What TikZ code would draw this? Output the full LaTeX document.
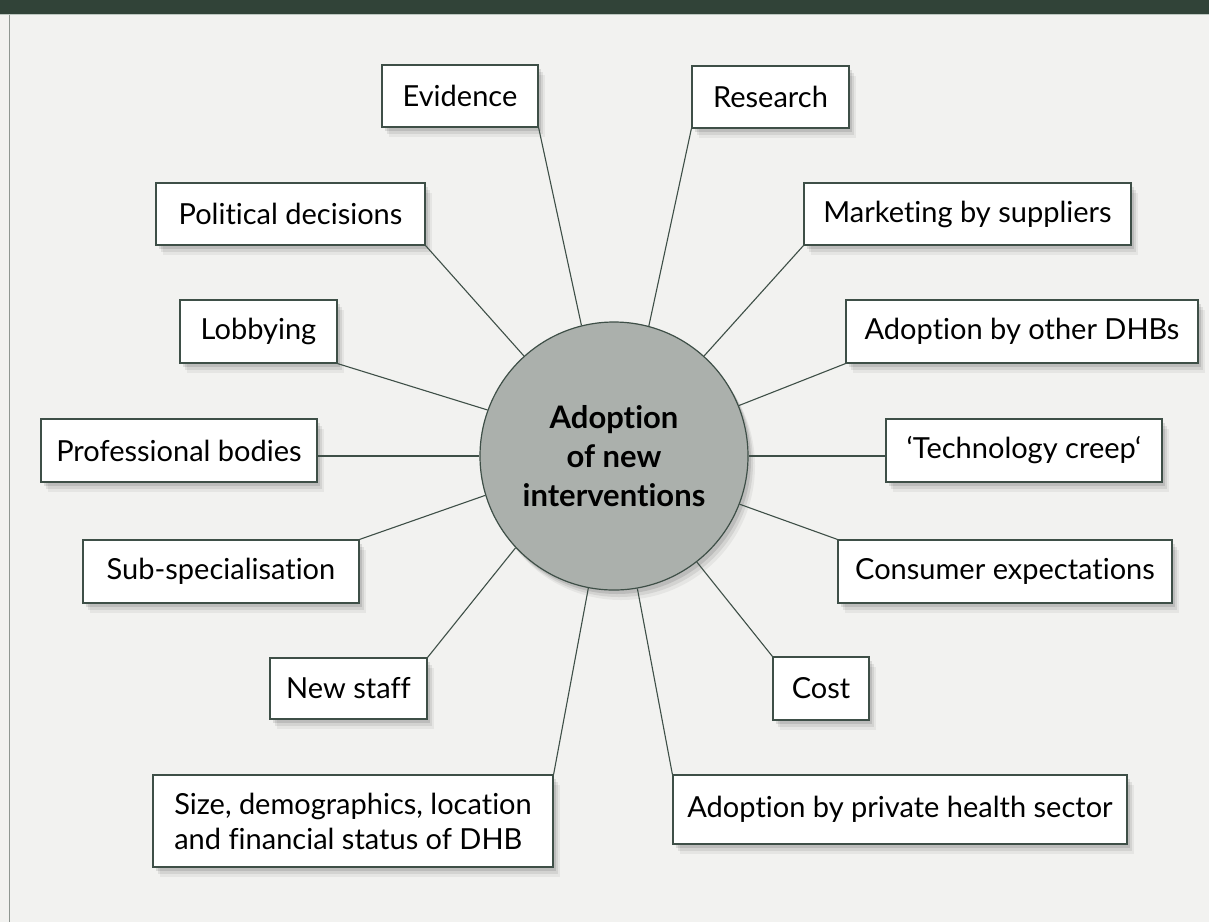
\documentclass[tikz,border=0pt]{standalone}
\usepackage{fontspec}
\setmainfont{Lato}[RawFeature={-liga;-clig;-calt;-dlig}]
\usetikzlibrary{shadows}
\definecolor{bg}{HTML}{F2F2F0}
\definecolor{barc}{HTML}{314338}
\definecolor{barline}{HTML}{BCC6BF}
\definecolor{framec}{HTML}{8F9691}
\definecolor{linec}{HTML}{3E4F47}
\definecolor{hubfill}{HTML}{ABB0AC}
\tikzset{
  softshadow/.style={
    drop shadow={shadow xshift=3pt,shadow yshift=-4pt,opacity=0.10,fill=black},
    drop shadow={shadow xshift=5pt,shadow yshift=-7pt,opacity=0.08,fill=black},
    drop shadow={shadow xshift=7pt,shadow yshift=-10pt,opacity=0.05,fill=black}},
  factor/.style={rectangle, draw=linec, line width=1.2pt, fill=white, inner sep=0pt,
    font=\fontsize{29}{35}\selectfont, text=black, softshadow},
  hub/.style={circle, draw=linec, line width=1.2pt, fill=hubfill, minimum size=268pt,
    inner sep=0pt, align=center, font=\fontsize{31}{39}\selectfont\bfseries, softshadow},
  spoke/.style={draw=linec, line width=1.1pt}
}
\begin{document}
\begin{tikzpicture}[x=1pt,y=-1pt]
\useasboundingbox (0,0) rectangle (1209,922);
\fill[bg] (0,0) rectangle (1209,922);
\fill[barc] (0,0) rectangle (1209,14);
\draw[barline, line width=1pt] (0,14.5) -- (1209,14.5);
\draw[framec, line width=1.5pt] (9.5,15) -- (9.5,922);

\node[hub] (c) at (614,456) {Adoption\\of new\\interventions};

\node[factor, minimum width=156pt, minimum height=62pt] (ev) at (460,96) {Evidence};
\node[factor, minimum width=157pt, minimum height=62pt] (re) at (770.5,97) {Research};
\node[factor, minimum width=269pt, minimum height=62pt] (po) at (290.5,214) {Political decisions};
\node[factor, minimum width=327pt, minimum height=62pt] (ma) at (967.5,214) {Marketing by suppliers};
\node[factor, minimum width=157pt, minimum height=63pt] (lo) at (258.5,331.5) {Lobbying};
\node[factor, minimum width=352pt, minimum height=63pt] (dh) at (1022,331.5) {Adoption by other DHBs};
\node[factor, minimum width=276pt, minimum height=63pt] (pr) at (179,450.5) {Professional bodies};
\node[factor, minimum width=276pt, minimum height=63pt] (te) at (1024,450.5) {‘Technology creep‘};
\node[factor, minimum width=276pt, minimum height=63pt] (su) at (221,571.5) {Sub-specialisation};
\node[factor, minimum width=334pt, minimum height=63pt] (co) at (1005,571.5) {Consumer expectations};
\node[factor, minimum width=157pt, minimum height=61pt] (ne) at (348.5,688.5) {New staff};
\node[factor, minimum width=96pt, minimum height=63pt] (cs) at (821,688.5) {Cost};
\node[factor, minimum width=400pt, minimum height=92pt, align=left] (si) at (353,821) {Size, demographics, location\\and financial status of DHB};
\node[factor, minimum width=454pt, minimum height=69pt] (pv) at (900,809.5) {Adoption by private health sector};

\draw[spoke] (ev.south east) -- (c.104.5);
\draw[spoke] (re.south west) -- (c.75.9);
\draw[spoke] (po.south east) -- (c.132);
\draw[spoke] (ma.south west) -- (c.48.3);
\draw[spoke] (lo.south east) -- (c.160.4);
\draw[spoke] (dh.south west) -- (c.22.5);
\draw[spoke] (c.180 -| pr.east) -- (c.180);
\draw[spoke] (c.0 -| te.west) -- (c.0);
\draw[spoke] (su.north east) -- (c.197);
\draw[spoke] (co.north west) -- (c.339.4);
\draw[spoke] (ne.north east) -- (c.223.5);
\draw[spoke] (cs.north west) -- (c.308.6);
\draw[spoke] (si.north east) -- (c.259.5);
\draw[spoke] (pv.north west) -- (c.280.3);
\end{tikzpicture}
\end{document}
